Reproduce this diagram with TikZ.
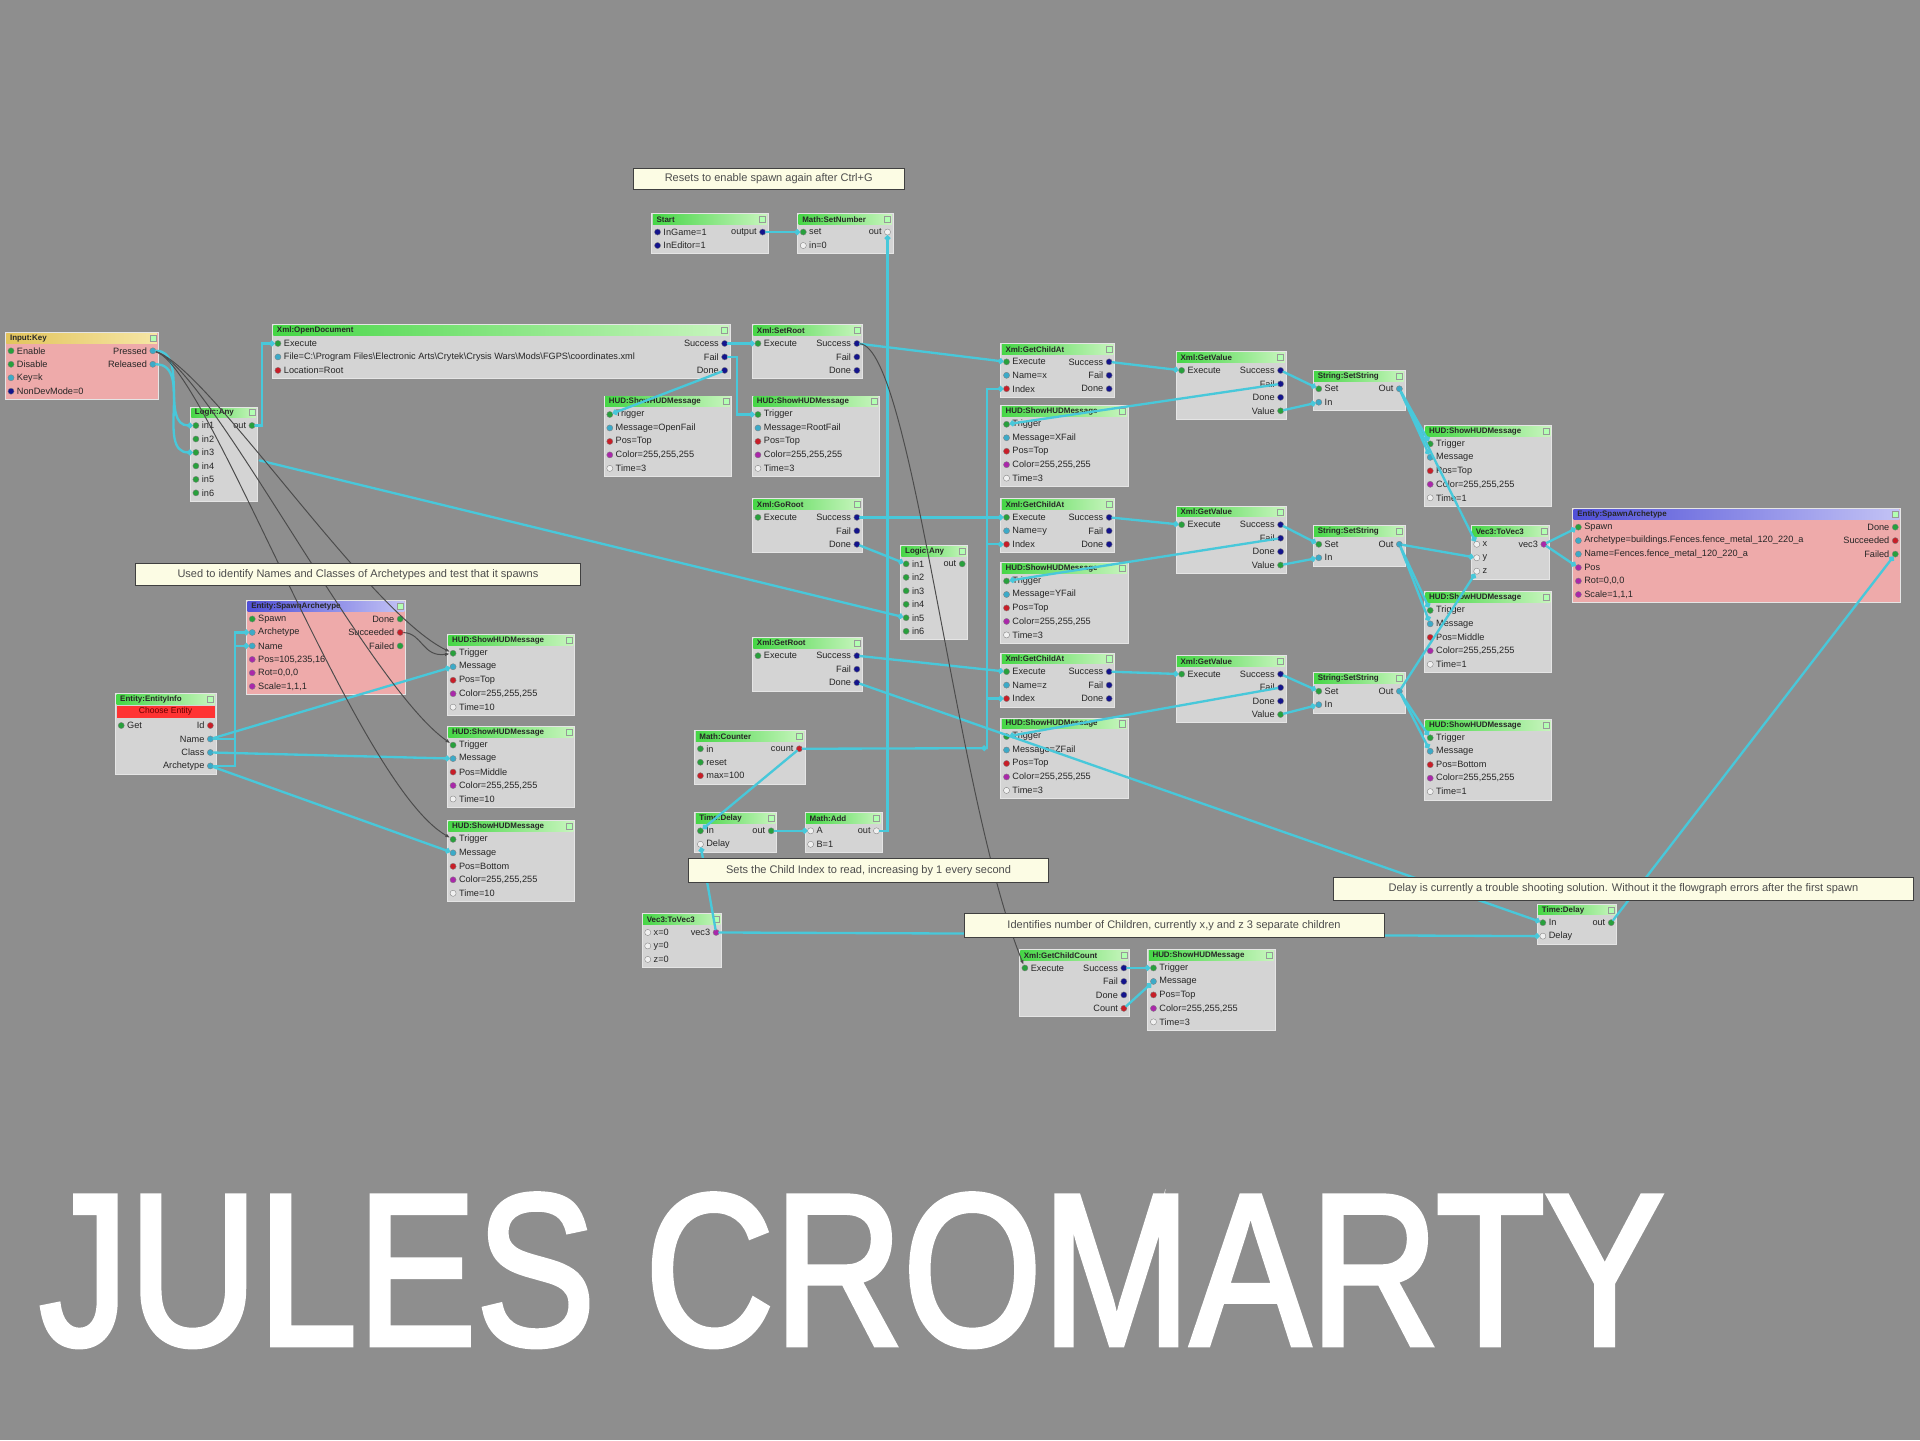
\documentclass[tikz,border=0pt]{standalone}
\usepackage{fontspec}
\usepackage{graphicx}
\setmainfont{Liberation Sans}
\newfontfamily\titlefont{Liberation Sans}[FakeBold=2.5]
\usetikzlibrary{calc,arrows.meta}
\definecolor{bggray}{RGB}{142,142,142}
\definecolor{bodyg}{RGB}{212,212,212}
\definecolor{bodyp}{RGB}{238,170,170}
\definecolor{tgreen}{RGB}{70,214,70}
\definecolor{tgreenl}{RGB}{200,245,190}
\definecolor{tblue}{RGB}{80,80,215}
\definecolor{tbluel}{RGB}{195,195,245}
\definecolor{tyel}{RGB}{226,196,92}
\definecolor{tyell}{RGB}{246,230,165}
\definecolor{wirec}{RGB}{72,200,218}
\definecolor{pgreen}{RGB}{40,160,60}
\definecolor{pcyan}{RGB}{60,170,200}
\definecolor{pred}{RGB}{200,30,40}
\definecolor{pmag}{RGB}{170,40,170}
\definecolor{pnavy}{RGB}{20,20,140}
\definecolor{pwhite}{RGB}{240,240,240}
\definecolor{cmtfill}{RGB}{252,252,228}
\tikzset{
 fgbody/.style={draw=white!80!gray, line width=0.8pt, inner sep=0pt, rectangle},
 tg/.style={left color=tgreen, right color=tgreenl},
 tb/.style={left color=tblue, right color=tbluel},
 ty/.style={left color=tyel, right color=tyell},
 fgtitle/.style={inner sep=0pt, minimum height=8pt, font=\fontsize{6.5}{7}\selectfont\bfseries, text=black!85, anchor=north west, align=left},
 port/.style={circle, inner sep=0pt, minimum size=5pt, draw=black!50, line width=0.3pt, fill=#1},
 plab/.style={inner sep=0pt, font=\fontsize{7.5}{8}\selectfont, text=black!85},
 wire/.style={draw=wirec, line width=1.9pt, line cap=round, -{Circle[length=4.5pt]}},
 dwire/.style={draw=black!70, line width=0.8pt, -{Latex[length=4pt,width=3pt]}},
 comment/.style={draw=black!75, fill=cmtfill, line width=0.6pt, inner sep=0pt, font=\fontsize{9}{10}\selectfont, text=black!70, anchor=north west},
}
% #1 body colour, #2 title style, #3 name, #4 x, #5 y, #6 width, #7 rows, #8 title
\newcommand\fgbox[8]{%
 \node[fgbody, fill=#1, minimum width=#6pt, minimum height={(11*#7+11)*1pt}, anchor=north west] (#3) at (#4,#5) {};
 \node[fgtitle, #2, minimum width={(#6-2)*1pt}, text width={(#6-8)*1pt}] (#3-t) at ($(#3.north west)+(1,1)$) {#8};
 \node[draw=black!40, fill=white!70!green, minimum size=5pt, inner sep=0pt] (#3-x) at ($(#3.north east)+(-5,5)$) {};
}
\newcommand\pL[4]{%
 \node[port=#3] (#1-l#2) at ($(#1.north west)+(5,{10+(#2-0.5)*11})$) {};
 \node[plab, anchor=west] (#1-lt#2) at ($(#1-l#2.east)+(2,0)$) {#4};
}
\newcommand\pR[4]{%
 \node[port=#3] (#1-r#2) at ($(#1.north east)+(-5,{10+(#2-0.5)*11})$) {};
 \node[plab, anchor=east] (#1-rt#2) at ($(#1-r#2.west)+(-2,0)$) {#4};
}
% name x y message pos time
\newcommand\hud[6]{%
 \fgbox{bodyg}{tg}{#1}{#2}{#3}{104}{5}{HUD:ShowHUDMessage}
 \pL{#1}{1}{pgreen}{Trigger}
 \pL{#1}{2}{pcyan}{#4}
 \pL{#1}{3}{pred}{#5}
 \pL{#1}{4}{pmag}{Color=255,255,255}
 \pL{#1}{5}{pwhite}{#6}
}
\newcommand\gca[4]{%
 \fgbox{bodyg}{tg}{#1}{#2}{#3}{93}{3}{Xml:GetChildAt}
 \pL{#1}{1}{pgreen}{Execute}\pL{#1}{2}{pcyan}{#4}\pL{#1}{3}{pred}{Index}
 \pR{#1}{1}{pnavy}{Success}\pR{#1}{2}{pnavy}{Fail}\pR{#1}{3}{pnavy}{Done}
}
\newcommand\gv[3]{%
 \fgbox{bodyg}{tg}{#1}{#2}{#3}{90}{4}{Xml:GetValue}
 \pL{#1}{1}{pgreen}{Execute}
 \pR{#1}{1}{pnavy}{Success}\pR{#1}{2}{pnavy}{Fail}\pR{#1}{3}{pnavy}{Done}\pR{#1}{4}{pgreen}{Value}
}
\newcommand\ssn[3]{%
 \fgbox{bodyg}{tg}{#1}{#2}{#3}{75}{2}{String:SetString}
 \pL{#1}{1}{pgreen}{Set}\pL{#1}{2}{pcyan}{In}\pR{#1}{1}{pcyan}{Out}
}
\newcommand\xroot[4]{%
 \fgbox{bodyg}{tg}{#1}{#2}{#3}{90}{3}{#4}
 \pL{#1}{1}{pgreen}{Execute}
 \pR{#1}{1}{pnavy}{Success}\pR{#1}{2}{pnavy}{Fail}\pR{#1}{3}{pnavy}{Done}
}
\newcommand\lany[3]{%
 \fgbox{bodyg}{tg}{#1}{#2}{#3}{55}{6}{Logic:Any}
 \pL{#1}{1}{pgreen}{in1}\pL{#1}{2}{pgreen}{in2}\pL{#1}{3}{pgreen}{in3}
 \pL{#1}{4}{pgreen}{in4}\pL{#1}{5}{pgreen}{in5}\pL{#1}{6}{pgreen}{in6}
 \pR{#1}{1}{pgreen}{out}
}
\begin{document}
\begin{tikzpicture}[x=1pt,y=-1pt]
\fill[bggray] (0,0) rectangle (1568,1176);
\useasboundingbox (0,0) rectangle (1568,1176);

% ---------- nodes ----------
\fgbox{bodyg}{tg}{start}{532}{174}{95}{2}{Start}
\pL{start}{1}{pnavy}{InGame=1}\pL{start}{2}{pnavy}{InEditor=1}\pR{start}{1}{pnavy}{output}
\fgbox{bodyg}{tg}{setnum}{651}{174}{78}{2}{Math:SetNumber}
\pL{setnum}{1}{pgreen}{set}\pL{setnum}{2}{pwhite}{in=0}\pR{setnum}{1}{pwhite}{out}

\fgbox{bodyp}{ty}{ikey}{4}{271}{125}{4}{Input:Key}
\pL{ikey}{1}{pgreen}{Enable}\pL{ikey}{2}{pgreen}{Disable}\pL{ikey}{3}{pcyan}{Key=k}\pL{ikey}{4}{pnavy}{NonDevMode=0}
\pR{ikey}{1}{pcyan}{Pressed}\pR{ikey}{2}{pcyan}{Released}

\fgbox{bodyg}{tg}{xopen}{222}{265}{374}{3}{Xml:OpenDocument}
\pL{xopen}{1}{pgreen}{Execute}
\pL{xopen}{2}{pcyan}{File=C:\textbackslash Program Files\textbackslash Electronic Arts\textbackslash Crytek\textbackslash Crysis Wars\textbackslash Mods\textbackslash FGPS\textbackslash coordinates.xml}
\pL{xopen}{3}{pred}{Location=Root}
\pR{xopen}{1}{pnavy}{Success}\pR{xopen}{2}{pnavy}{Fail}\pR{xopen}{3}{pnavy}{Done}

\xroot{xsetroot}{614}{265}{Xml:SetRoot}
\lany{any1}{155}{332}
\hud{hud1}{493}{323}{Message=OpenFail}{Pos=Top}{Time=3}
\hud{hud2}{614}{323}{Message=RootFail}{Pos=Top}{Time=3}
\xroot{xgoroot}{614}{407}{Xml:GoRoot}

\gca{gca1}{817}{280}{Name=x}
\hud{hudx}{817}{331}{Message=XFail}{Pos=Top}{Time=3}
\gv{gv1}{960}{287}
\ssn{ss1}{1072}{302}
\hud{hudt}{1163}{347}{Message}{Pos=Top}{Time=1}

\gca{gca2}{817}{407}{Name=y}
\hud{hudy}{817}{459}{Message=YFail}{Pos=Top}{Time=3}
\gv{gv2}{960}{413}
\ssn{ss2}{1072}{429}
\fgbox{bodyg}{tg}{v3a}{1201}{429}{64}{3}{Vec3:ToVec3}
\pL{v3a}{1}{pwhite}{x}\pL{v3a}{2}{pwhite}{y}\pL{v3a}{3}{pwhite}{z}\pR{v3a}{1}{pmag}{vec3}
\hud{hudm}{1163}{483}{Message}{Pos=Middle}{Time=1}

\fgbox{bodyp}{tb}{spawnR}{1284}{415}{268}{6}{Entity:SpawnArchetype}
\pL{spawnR}{1}{pgreen}{Spawn}
\pL{spawnR}{2}{pcyan}{Archetype=buildings.Fences.fence\_metal\_120\_220\_a}
\pL{spawnR}{3}{pcyan}{Name=Fences.fence\_metal\_120\_220\_a}
\pL{spawnR}{4}{pmag}{Pos}\pL{spawnR}{5}{pmag}{Rot=0,0,0}\pL{spawnR}{6}{pmag}{Scale=1,1,1}
\pR{spawnR}{1}{pgreen}{Done}\pR{spawnR}{2}{pred}{Succeeded}\pR{spawnR}{3}{pgreen}{Failed}

\lany{any2}{735}{445}

\fgbox{bodyp}{tb}{spawnL}{201}{490}{130}{6}{Entity:SpawnArchetype}
\pL{spawnL}{1}{pgreen}{Spawn}\pL{spawnL}{2}{pcyan}{Archetype}\pL{spawnL}{3}{pcyan}{Name}
\pL{spawnL}{4}{pmag}{Pos=105,235,16}\pL{spawnL}{5}{pmag}{Rot=0,0,0}\pL{spawnL}{6}{pmag}{Scale=1,1,1}
\pR{spawnL}{1}{pgreen}{Done}\pR{spawnL}{2}{pred}{Succeeded}\pR{spawnL}{3}{pgreen}{Failed}

\fgbox{bodyg}{tg}{einfo}{94}{566}{82}{5}{Entity:EntityInfo}
\node[fill=red!80!white, minimum width=80pt, minimum height=10pt, inner sep=0pt, anchor=north west, font=\fontsize{7}{8}\selectfont, text=red!40!black] (einfo-e) at ($(einfo.north west)+(1,10)$) {Choose Entity};
\pL{einfo}{2}{pgreen}{Get}
\pR{einfo}{2}{pred}{Id}\pR{einfo}{3}{pcyan}{Name}\pR{einfo}{4}{pcyan}{Class}\pR{einfo}{5}{pcyan}{Archetype}

\hud{hudl1}{365}{518}{Message}{Pos=Top}{Time=10}
\hud{hudl2}{365}{593}{Message}{Pos=Middle}{Time=10}
\hud{hudl3}{365}{670}{Message}{Pos=Bottom}{Time=10}

\xroot{xgetroot}{614}{520}{Xml:GetRoot}
\gca{gca3}{817}{533}{Name=z}
\hud{hudz}{817}{586}{Message=ZFail}{Pos=Top}{Time=3}
\gv{gv3}{960}{535}
\ssn{ss3}{1072}{549}
\hud{hudb}{1163}{587}{Message}{Pos=Bottom}{Time=1}

\fgbox{bodyg}{tg}{counter}{567}{596}{90}{3}{Math:Counter}
\pL{counter}{1}{pgreen}{in}\pL{counter}{2}{pgreen}{reset}\pL{counter}{3}{pred}{max=100}\pR{counter}{1}{pred}{count}
\fgbox{bodyg}{tg}{tdelay1}{567}{663}{67}{2}{Time:Delay}
\pL{tdelay1}{1}{pgreen}{In}\pL{tdelay1}{2}{pwhite}{Delay}\pR{tdelay1}{1}{pgreen}{out}
\fgbox{bodyg}{tg}{madd}{657}{663}{63}{2}{Math:Add}
\pL{madd}{1}{pwhite}{A}\pL{madd}{2}{pwhite}{B=1}\pR{madd}{1}{pwhite}{out}

\fgbox{bodyg}{tg}{v3b}{524}{746}{65}{3}{Vec3:ToVec3}
\pL{v3b}{1}{pwhite}{x=0}\pL{v3b}{2}{pwhite}{y=0}\pL{v3b}{3}{pwhite}{z=0}\pR{v3b}{1}{pmag}{vec3}
\fgbox{bodyg}{tg}{tdelay2}{1255}{738}{65}{2}{Time:Delay}
\pL{tdelay2}{1}{pgreen}{In}\pL{tdelay2}{2}{pwhite}{Delay}\pR{tdelay2}{1}{pgreen}{out}

\fgbox{bodyg}{tg}{gcc}{832}{775}{90}{4}{Xml:GetChildCount}
\pL{gcc}{1}{pgreen}{Execute}
\pR{gcc}{1}{pnavy}{Success}\pR{gcc}{2}{pnavy}{Fail}\pR{gcc}{3}{pnavy}{Done}\pR{gcc}{4}{pred}{Count}
\hud{hudc}{937}{775}{Message}{Pos=Top}{Time=3}

% ---------- connectors ----------
\coordinate (c1) at (212,376);
\coordinate (bus) at (806,611);
\draw[wire] (ikey-r1) to[out=0,in=180] (any1-l1);
\draw[wire] (ikey-r2) to[out=0,in=180] (any1-l3);
\draw[wire] (any1-r1) -- ++(8,0) |- (xopen-l1);
\draw[wire] (c1) -- (any2-l5);
\draw[wire] (xopen-r1) -- (xsetroot-l1);
\draw[wire] (xopen-r3) -- (hud1-l1);
\draw[wire] (xopen-r2) -- ++(10,0) |- (hud2-l1);
\draw[wire] (xsetroot-r1) -- (gca1-l1);
\draw[wire] (start-r1) -- (setnum-l1);
\draw[wire] (madd-r1) -| (setnum-r1);
\draw[wire] (xgoroot-r1) -- (gca2-l1);
\draw[wire] (xgoroot-r3) -- (any2-l1);
\draw[wire] (xgetroot-r1) -- (gca3-l1);
\draw[wire] (gca1-r1) -- (gv1-l1);
\draw[wire] (gca2-r1) -- (gv2-l1);
\draw[wire] (gca3-r1) -- (gv3-l1);
\draw[wire] (gv1-r1) -- (ss1-l1);
\draw[wire] (gv1-r4) -- (ss1-l2);
\draw[wire] (gv2-r1) -- (ss2-l1);
\draw[wire] (gv2-r4) -- (ss2-l2);
\draw[wire] (gv3-r1) -- (ss3-l1);
\draw[wire] (gv3-r4) -- (ss3-l2);
\draw[wire] (gv1-r2) -- (hudx-l1);
\draw[wire] (gv2-r2) -- (hudy-l1);
\draw[wire] (gv3-r2) -- (hudz-l1);
\draw[wire] (ss1-r1) -- (hudt-l1);
\draw[wire] (ss1-r1) -- (hudt-l2);
\draw[wire] (ss2-r1) -- (hudm-l1);
\draw[wire] (ss2-r1) -- (hudm-l2);
\draw[wire] (ss3-r1) -- (hudb-l1);
\draw[wire] (ss3-r1) -- (hudb-l2);
\draw[wire] (ss1-r1) -- (v3a-l1);
\draw[wire] (ss2-r1) -- (v3a-l2);
\draw[wire] (ss3-r1) -- (v3a-l3);
\draw[wire] (v3a-r1) -- (spawnR-l4);
\draw[wire] (v3a-r1) -- (spawnR-l1);
\draw[wire] (tdelay2-r1) -- (spawnR-r3);
\draw[wire] (xgetroot-r3) -- (tdelay2-l1);
\draw[wire] (counter-r1) -- (bus);
\draw[wire] (bus) |- (gca1-l3);
\draw[wire] (bus) |- (gca2-l3);
\draw[wire] (bus) |- (gca3-l3);
\draw[wire] (counter-r1) -- (tdelay1-l1);
\draw[wire] (tdelay1-r1) -- (madd-l1);
\draw[wire] (v3b-r1) -- (tdelay2-l2);
\draw[wire] (v3b-r1) -- (tdelay1-l2);
\draw[wire] (einfo-r3) -- (hudl1-l2);
\draw[wire] (einfo-r4) -- (hudl2-l2);
\draw[wire] (einfo-r5) -- (hudl3-l2);
\draw[wire] (einfo-r5) -- ++(20,0) |- (spawnL-l2);
\draw[wire] (einfo-r3) -- ++(20,0) |- (spawnL-l3);
\draw[wire] (gcc-r1) -- (hudc-l1);
\draw[wire] (gcc-r4) -- (hudc-l2);

\draw[dwire] (ikey-r1) .. controls (170,300) and (300,500) .. (hudl1-l1);
\draw[dwire] (ikey-r1) .. controls (170,300) and (300,560) .. (hudl2-l1);
\draw[dwire] (ikey-r1) .. controls (170,300) and (290,640) .. (hudl3-l1);
\draw[dwire] (spawnL-r2) .. controls (345,517) and (345,537) .. (hudl1-l1);
\draw[dwire] (xsetroot-r1) .. controls (745,285) and (780,650) .. (gcc-l1);

% ---------- comments ----------
\node[comment, minimum width=221pt, minimum height=17pt] (cm1) at (517,137) {Resets to enable spawn again after Ctrl+G};
\node[comment, minimum width=364pt, minimum height=18pt] (cm2) at (110,460) {Used to identify Names and Classes of Archetypes and test that it spawns};
\node[comment, minimum width=294pt, minimum height=19pt] (cm3) at (562,701) {Sets the Child Index to read, increasing by 1 every second};
\node[comment, minimum width=473pt, minimum height=19pt] (cm4) at (1089,716) {Delay is currently a trouble shooting solution. Without it the flowgraph errors after the first spawn};
\node[comment, minimum width=343pt, minimum height=19pt] (cm5) at (787,746) {Identifies number of Children, currently x,y and z 3 separate children};

% ---------- title ----------
\node[anchor=south west, inner sep=0pt, text=white] (title) at (32,1100) {\resizebox{1326pt}{123pt}{\titlefont JULES CROMARTY}};
\end{tikzpicture}
\end{document}
